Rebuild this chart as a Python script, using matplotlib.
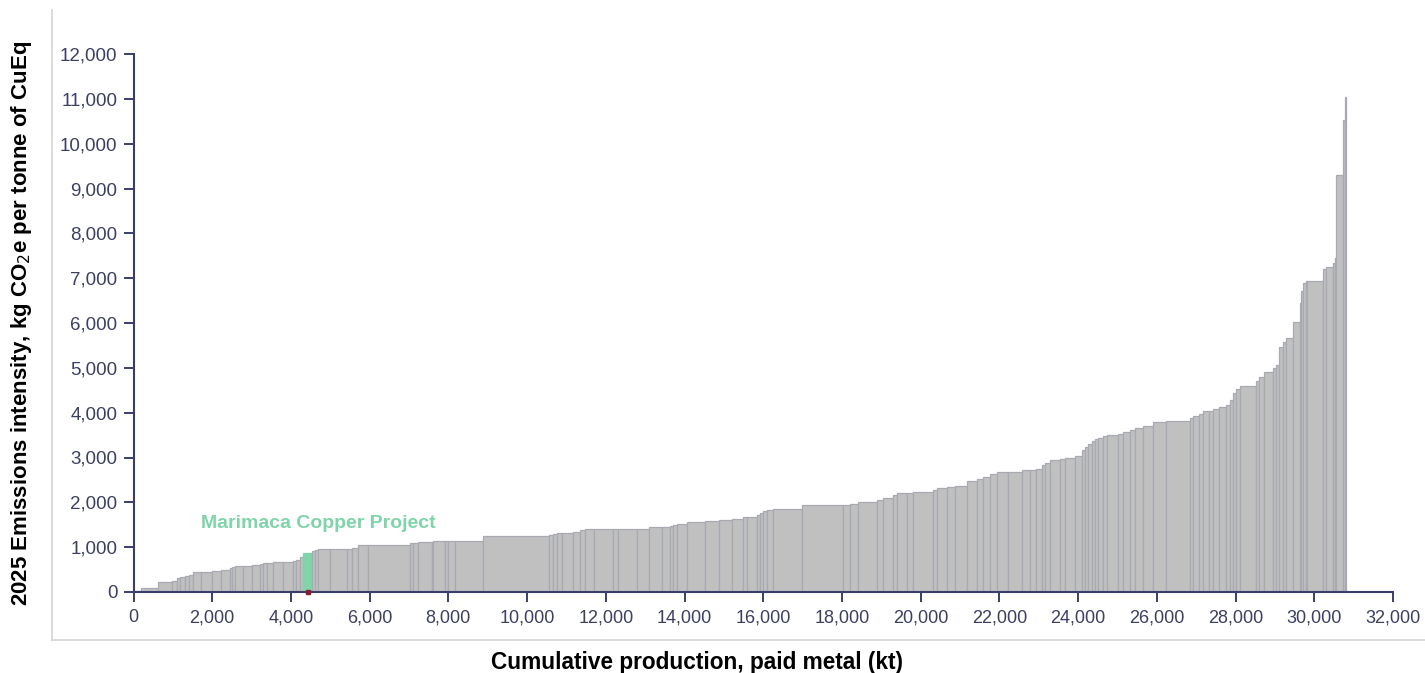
import matplotlib
matplotlib.use("Agg")
import matplotlib.pyplot as plt
from matplotlib.lines import Line2D
import numpy as np

plt.rcParams['font.family'] = ['Liberation Sans', 'DejaVu Sans']

# Paid metal production of each asset (kt), ordered by emissions intensity
production_kt = [
    190, 424, 356, 127, 84, 127, 102, 109, 196, 272,
    236, 229, 51, 76, 203, 221, 211, 84, 94, 160,
    246, 262, 69, 102, 84, 213, 84, 84, 297, 424,
    135, 160, 254, 1059, 84, 112, 363, 33, 297, 84,
    170, 719, 1676, 102, 102, 112, 295, 170, 127, 229,
    490, 127, 467, 320, 315, 211, 84, 102, 239, 465,
    363, 315, 279, 102, 254, 84, 84, 86, 168, 721,
    1057, 170, 211, 467, 152, 269, 86, 254, 168, 508,
    86, 254, 211, 297, 254, 168, 170, 170, 295, 340,
    211, 152, 145, 84, 127, 254, 127, 254, 170, 84,
    84, 86, 84, 84, 112, 117, 279, 127, 170, 127,
    211, 254, 322, 627, 66, 152, 102, 152, 102, 152,
    188, 84, 84, 86, 102, 389, 84, 127, 229, 69,
    84, 86, 84, 185, 169, 43, 41, 69, 33, 406,
    69, 178, 51, 38, 173, 61, 25,
]

# 2025 emissions intensity (kg CO2e per tonne CuEq)
intensity = [
    30, 90, 215, 250, 310, 340, 360, 375, 450, 455,
    475, 480, 540, 555, 580, 580, 610, 615, 645, 650,
    675, 675, 690, 720, 780, 875, 915, 935, 950, 950,
    960, 975, 1050, 1050, 1090, 1100, 1120, 1120, 1145, 1145,
    1145, 1145, 1250, 1270, 1300, 1310, 1310, 1345, 1376, 1398,
    1398, 1400, 1413, 1413, 1440, 1460, 1475, 1494, 1524, 1569,
    1591, 1613, 1636, 1666, 1680, 1725, 1769, 1807, 1836, 1859,
    1934, 1934, 1956, 2008, 2052, 2097, 2171, 2201, 2205, 2240,
    2275, 2313, 2342, 2364, 2475, 2530, 2575, 2640, 2684, 2684,
    2714, 2725, 2744, 2830, 2875, 2944, 2967, 2995, 3037, 3160,
    3227, 3298, 3375, 3420, 3445, 3480, 3500, 3530, 3572, 3610,
    3647, 3695, 3795, 3822, 3874, 3933, 3980, 4037, 4040, 4080,
    4120, 4180, 4290, 4430, 4530, 4600, 4707, 4804, 4900, 4990,
    5064, 5472, 5584, 5659, 6030, 6450, 6721, 6886, 6944, 6944,
    7200, 7256, 7330, 7450, 9310, 10520, 11050,
]

highlight_index = 25
highlight_label = "Marimaca Copper Project"

x_ticks = list(range(0, 32001, 2000))
y_ticks = list(range(0, 12001, 1000))

axis_color = "#3a3e6c"
tick_label_color = "#3c3f62"
bar_color = "#c0c0c0"
bar_edge = "#a8a9b1"
green = "#7fd4aa"

fig = plt.figure(figsize=(14.25, 6.73), dpi=100)
ax_w = 1393 - 133.5
ax = fig.add_axes([133.5 / 1425, 1 - 592 / 673, ax_w / 1425, (592 - 54) / 673])

widths = np.array(production_kt, dtype=float)
lefts = np.concatenate([[0.0], np.cumsum(widths)[:-1]])
heights = np.array(intensity, dtype=float)

colors = [bar_color] * len(widths)
edges = [bar_edge] * len(widths)
colors[highlight_index] = green
edges[highlight_index] = green

ax.bar(lefts, heights, width=widths, align="edge", color=colors,
       edgecolor=edges, linewidth=0.9, zorder=2)

# Highlighted asset: label and base marker
hx = lefts[highlight_index] + widths[highlight_index] / 2
ax.annotate(highlight_label, xy=(hx, heights[highlight_index]),
            xytext=(8, 15), textcoords="offset points", color=green,
            fontsize=14, fontweight="bold", ha="center", va="bottom")
ax.plot([hx], [0], marker="s", markersize=3.2, color="#8a1c2c",
        clip_on=False, zorder=5)

ax.set_xlim(0, 32000)
ax.set_ylim(0, 12000)
ax.set_xticks(x_ticks)
ax.set_yticks(y_ticks)
ax.set_xticklabels([f"{v:,}" for v in x_ticks])
ax.set_yticklabels([f"{v:,}" for v in y_ticks])

for side in ("top", "right"):
    ax.spines[side].set_visible(False)
for side in ("left", "bottom"):
    ax.spines[side].set_color(axis_color)
    ax.spines[side].set_linewidth(1.5)

ax.tick_params(axis="both", colors=axis_color, labelcolor=tick_label_color,
               length=7, width=1.4, direction="out")
ax.tick_params(axis="y", pad=4.5, labelsize=13.5)
ax.tick_params(axis="x", pad=5.5, labelsize=13)

ax.set_ylabel("2025 Emissions intensity, kg CO$_2$e per tonne of CuEq",
              fontsize=16, fontweight="bold", color="black")
ax.yaxis.set_label_coords((34 - 133.5) / ax_w, 0.5)
fig.text(697 / 1425, 1 - 662 / 673, "Cumulative production, paid metal (kt)",
         fontsize=16.3, fontweight="bold", color="black", ha="center", va="center")

# Light frame lines around the plotting block
frame_color = "#d4d4d4"
fig.add_artist(Line2D([52 / 1425, 52 / 1425], [1 - 10 / 673, 1 - 640 / 673],
                      transform=fig.transFigure, color=frame_color, linewidth=1.2))
fig.add_artist(Line2D([52 / 1425, 1.0], [1 - 640 / 673, 1 - 640 / 673],
                      transform=fig.transFigure, color=frame_color, linewidth=1.2))

fig.savefig("out.png", dpi=100)
